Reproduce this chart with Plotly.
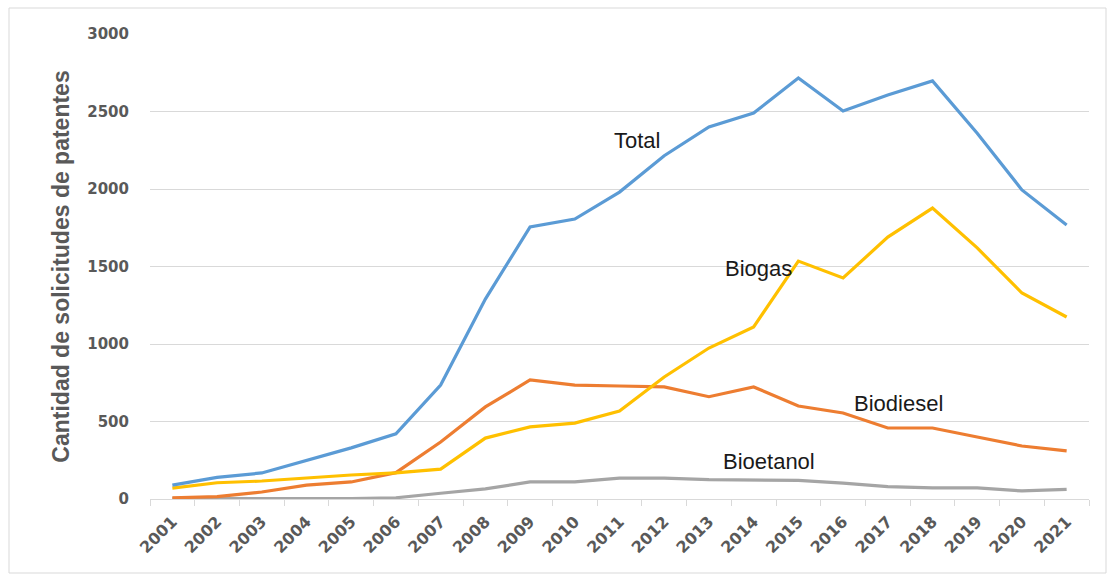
import plotly.graph_objects as go

years = [str(y) for y in range(2001, 2022)]

total = [90, 140, 168, 250, 330, 420, 735, 1290, 1755, 1806, 1980, 2215, 2400, 2490,
         2716, 2503, 2606, 2697, 2360, 1994, 1768]
biogas = [70, 105, 116, 135, 155, 168, 193, 393, 465, 490, 568, 787, 974, 1110,
          1535, 1426, 1690, 1877, 1620, 1329, 1174]
biodiesel = [8, 15, 45, 90, 110, 170, 368, 594, 768, 735, 729, 723, 660, 723,
             600, 555, 458, 458, 400, 342, 310]
bioetanol = [5, 3, 2, 2, 3, 8, 37, 65, 110, 110, 135, 135, 125, 120,
             120, 103, 80, 72, 72, 52, 62]

series = [
    ("Bioetanol", bioetanol, "#A5A5A5"),
    ("Biodiesel", biodiesel, "#ED7D31"),
    ("Biogas", biogas, "#FFC000"),
    ("Total", total, "#5B9BD5"),
]

fig = go.Figure()
for name, vals, color in series:
    fig.add_trace(go.Scatter(x=years, y=vals, mode="lines", name=name,
                             line=dict(color=color, width=3.2)))

# in-plot series labels
labels = [
    ("Total", 10.4, 2316),
    ("Biogas", 13.1, 1484),
    ("Biodiesel", 16.25, 619),
    ("Bioetanol", 13.35, 239),
]
for text, xi, yv in labels:
    fig.add_annotation(x=xi, y=yv, xref="x", yref="y", text=text, showarrow=False,
                       font=dict(family="Liberation Sans, Arial", size=22, color="#1a1a1a"))

ytick_font = dict(family="DejaVu Sans", size=15, color="#595959", weight="bold")
xtick_font = dict(family="DejaVu Sans", size=16, color="#595959", weight="bold")

fig.update_layout(
    width=1109, height=574,
    margin=dict(l=150, r=20, t=34, b=75),
    paper_bgcolor="white", plot_bgcolor="white",
    showlegend=False,
    xaxis=dict(
        type="category", range=[-0.5, 20.5],
        showgrid=False, showline=True, linecolor="#d9d9d9", linewidth=1,
        ticks="outside", tickson="boundaries", ticklen=6, tickcolor="#d9d9d9",
        tickangle=-45, tickfont=xtick_font, ticklabelstandoff=6,
    ),
    yaxis=dict(
        range=[0, 3000], tickvals=[0, 500, 1000, 1500, 2000, 2500, 3000],
        showgrid=True, gridcolor="#d9d9d9", gridwidth=1, zeroline=False,
        showline=False, ticks="", ticklabelstandoff=20,
        tickfont=ytick_font,
        title=dict(text="Cantidad de solicitudes de patentes", standoff=11,
                   font=dict(family="Liberation Sans, Arial", size=23, color="#595959",
                             weight="bold")),
    ),
    shapes=[dict(type="rect", xref="paper", yref="paper",
                 x0=(9 - 150) / 939, x1=(1106 - 150) / 939,
                 y0=(499 - 573) / 465, y1=(499 - 8) / 465,
                 line=dict(color="#d9d9d9", width=1), layer="below")],
)

fig.write_html("out.html")
